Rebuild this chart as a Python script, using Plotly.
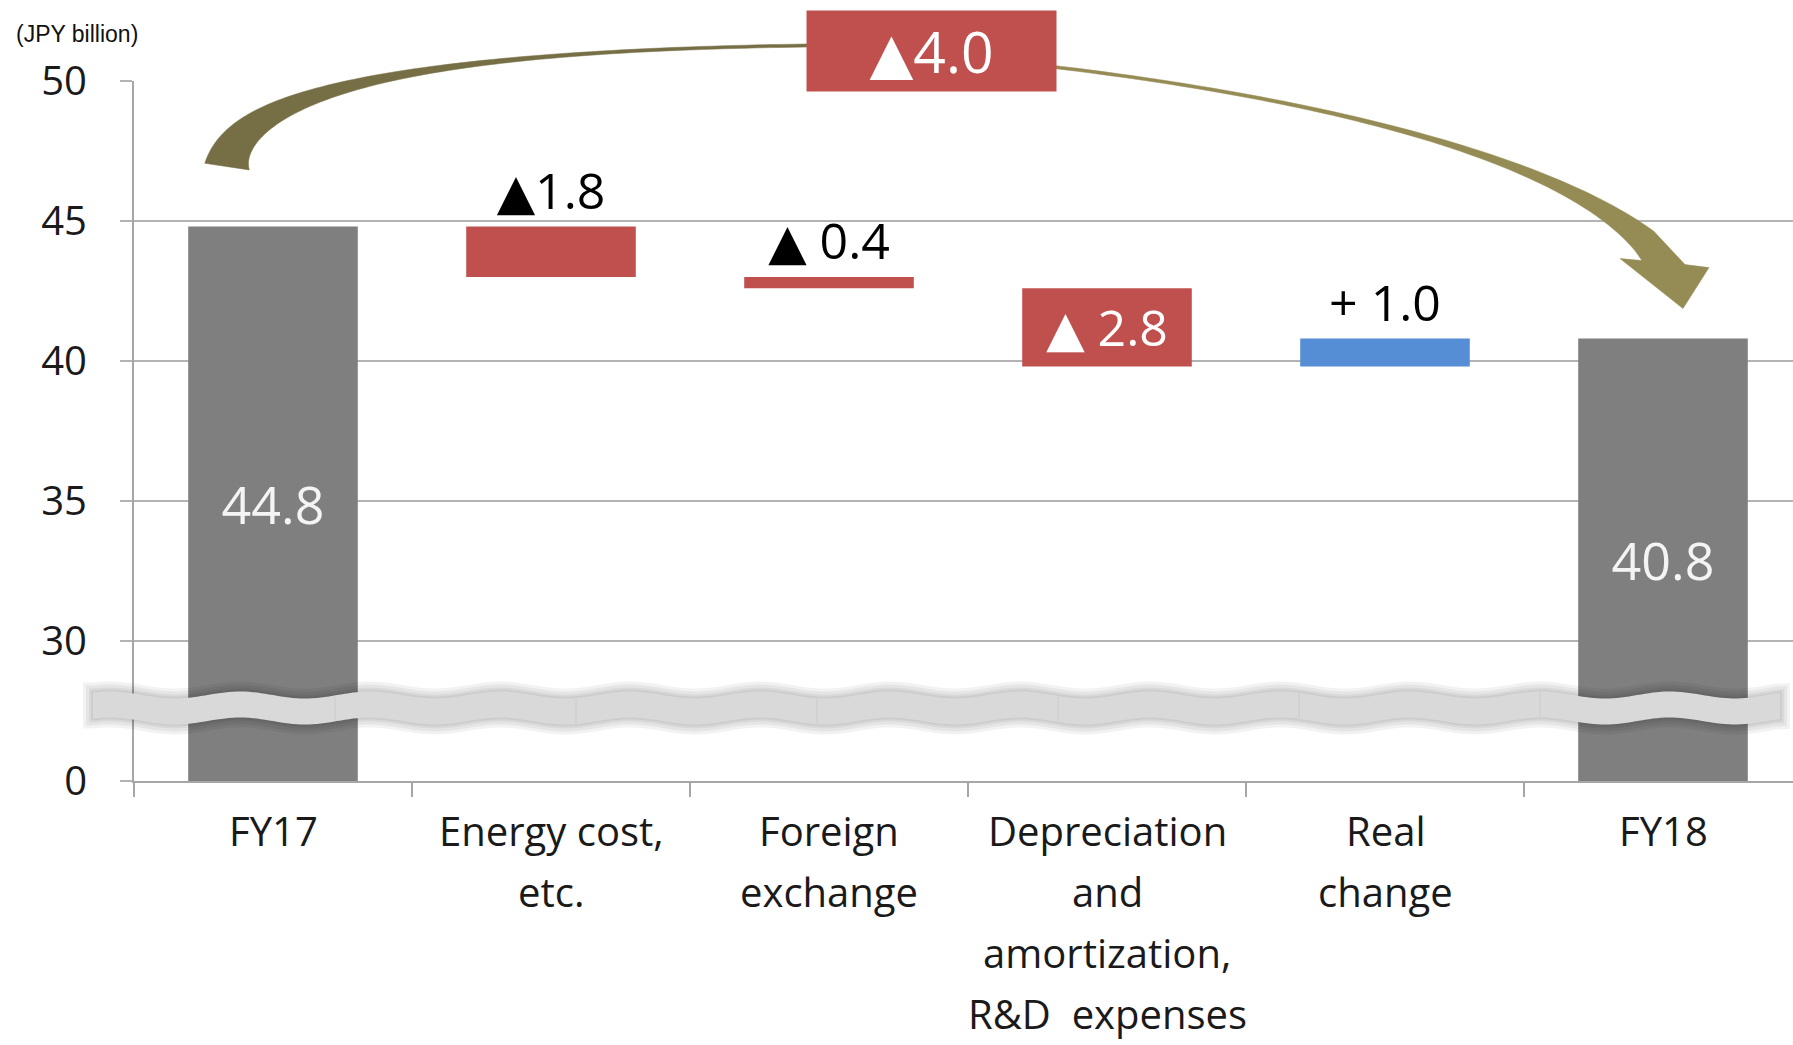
import math
import plotly.graph_objects as go

# ---------------- data (JPY billion) ----------------
categories = [
    "FY17",
    "Energy cost, etc.",
    "Foreign exchange",
    "Depreciation and amortization, R&D expenses",
    "Real change",
    "FY18",
]
category_label_lines = [
    ["FY17"],
    ["Energy cost,", "etc."],
    ["Foreign", "exchange"],
    ["Depreciation", "and", "amortization,", "R&D\u00a0 expenses"],
    ["Real", "change"],
    ["FY18"],
]
fy17_total = 44.8
fy18_total = 40.8
change_values = [-1.8, -0.4, -2.8, 1.0]
change_sign_gap = ["", " ", " ", " "]
y_tick_values = [0, 30, 35, 40, 45, 50]
unit_label = "(JPY billion)"

# ---------------- broken value axis ----------------
# Values from 0 to 30 are squeezed into the short band below the break,
# so that 0 sits where 25 would be on a continuous scale.
BREAK_AT = 30.0
ZERO_POS = 25.0


def axis_pos(v):
    if v >= BREAK_AT:
        return v
    return ZERO_POS + v * (BREAK_AT - ZERO_POS) / BREAK_AT


GREY, RED, BLUE = "#7f7f7f", "#c0504d", "#558ed5"
TEXT_FONT = "Open Sans, DejaVu Sans, sans-serif"

bar_base, bar_len, bar_color = [], [], []
bar_text, text_pos, text_color, text_size = [], [], [], []


def add_total(v):
    bar_base.append(axis_pos(0))
    bar_len.append(axis_pos(v) - axis_pos(0))
    bar_color.append(GREY)
    bar_text.append(f"{v:.1f}")
    text_pos.append("inside")
    text_color.append("#f4f4f4")
    text_size.append(52)


add_total(fy17_total)
level = fy17_total
for delta, gap in zip(change_values, change_sign_gap):
    lo, hi = sorted((level, level + delta))
    bar_base.append(axis_pos(lo))
    bar_len.append(axis_pos(hi) - axis_pos(lo))
    bar_color.append(RED if delta < 0 else BLUE)
    mark = "\u25b2" if delta < 0 else "+"
    bar_text.append(f"{mark}{gap}{abs(delta):.1f}")
    inside = abs(delta) > 2.0  # tall enough to hold its own label
    text_pos.append("inside" if inside else "outside")
    text_color.append("white" if inside else "black")
    text_size.append(50)
    level += delta
add_total(fy18_total)

fig = go.Figure(
    go.Bar(
        x=categories,
        y=bar_len,
        base=bar_base,
        width=0.61,
        marker=dict(color=bar_color, line=dict(width=0)),
        text=bar_text,
        textposition=text_pos,
        insidetextanchor="middle",
        constraintext="none",
        textfont=dict(family=TEXT_FONT, size=text_size, color=text_color),
        cliponaxis=False,
        hoverinfo="skip",
    )
)

# ---------------- pixel geometry of the plot area ----------------
W, H = 1793, 1045
L, T, B = 134, 81, 264
PLOT_W = W - L
PLOT_H = H - T - B
CAT_STEP = 278.0  # pixels per category


def px(x):
    return (x - L) / PLOT_W


def py(y):
    return (H - B - y) / PLOT_H


def path_from(points):
    return "M " + " L ".join(f"{px(x):.5f},{py(y):.5f}" for x, y in points) + " Z"


shapes = []

# ---------------- wavy axis-break band ----------------
BAND_X0, BAND_X1 = 93, 1780
BAND_TOP, BAND_THICK, WAVE_AMP, WAVE_LEN = 695.0, 26.0, 3.5, 130.0


def band_top(x):
    return BAND_TOP - WAVE_AMP * math.cos(2 * math.pi * (x - 240) / WAVE_LEN)


xs = [BAND_X0 + i * 4 for i in range(int((BAND_X1 - BAND_X0) / 4) + 1)] + [BAND_X1]


def band_polygon(grow):
    top = [(x, band_top(x) - grow) for x in xs]
    bot = [(x, band_top(x) + BAND_THICK + grow) for x in reversed(xs)]
    top[0] = (top[0][0] - grow, top[0][1])
    top[-1] = (top[-1][0] + grow, top[-1][1])
    bot[0] = (bot[0][0] + grow, bot[0][1])
    bot[-1] = (bot[-1][0] - grow, bot[-1][1])
    return top + bot


for grow in (10, 7, 4, 2):
    shapes.append(dict(type="path", xref="paper", yref="paper", layer="above",
                       path=path_from(band_polygon(grow)),
                       fillcolor="rgba(0,0,0,0.05)", line=dict(width=0)))
shapes.append(dict(type="path", xref="paper", yref="paper", layer="above",
                   path=path_from(band_polygon(0)),
                   fillcolor="#d9d9d9", line=dict(width=0)))
seg = 335
while seg < BAND_X1 - 20:
    shapes.append(dict(type="line", xref="paper", yref="paper", layer="above",
                       x0=px(seg), x1=px(seg), y0=py(band_top(seg) + 1),
                       y1=py(band_top(seg) + BAND_THICK - 1),
                       line=dict(color="#cacaca", width=1)))
    seg += 241


# ---------------- curved overall-change arrow ----------------
def bezier(p, t):
    u = 1 - t
    return (u**3 * p[0][0] + 3 * u * u * t * p[1][0] + 3 * u * t * t * p[2][0] + t**3 * p[3][0],
            u**3 * p[0][1] + 3 * u * u * t * p[1][1] + 3 * u * t * t * p[2][1] + t**3 * p[3][1])


def bezier_d(p, t):
    u = 1 - t
    return (3 * u * u * (p[1][0] - p[0][0]) + 6 * u * t * (p[2][0] - p[1][0]) + 3 * t * t * (p[3][0] - p[2][0]),
            3 * u * u * (p[1][1] - p[0][1]) + 6 * u * t * (p[2][1] - p[1][1]) + 3 * t * t * (p[3][1] - p[2][1]))


def ribbon(ctrl, width_fn, t_end=1.0, n=80):
    """Two edges of a variable-width band along a cubic curve.
    The first edge lies on the side of +y (screen-down) for a rightward curve."""
    side_a, side_b = [], []
    for i in range(n + 1):
        t = t_end * i / n
        cx, cy = bezier(ctrl, t)
        dx, dy = bezier_d(ctrl, t)
        norm = math.hypot(dx, dy)
        nx, ny = -dy / norm, dx / norm
        w = width_fn(t) / 2
        side_a.append((cx + nx * w, cy + ny * w))
        side_b.append((cx - nx * w, cy - ny * w))
    return side_a, side_b


x_fy17 = L + 0.5 * CAT_STEP
x_fy18 = L + 5.5 * CAT_STEP


def bar_top_px(v):
    return (H - B) - (axis_pos(v) - ZERO_POS) * PLOT_H / 25.0


tail = (x_fy17 - 46, bar_top_px(fy17_total) - 60)
peak = (807, 45.5)
head = (x_fy18 + 1, bar_top_px(fy18_total) - 76)

left_ctrl = [tail, (tail[0] + 13, 80), (480, 50), peak]
right_ctrl = [peak, (1200, 68), (1574, 142), head]

a, b = ribbon(left_ctrl, lambda t: 3 + 42 * (1 - t) ** 3)
shapes.append(dict(type="path", xref="paper", yref="paper", layer="above",
                   path=path_from(a + b[::-1]), fillcolor="#766e45",
                   line=dict(color="#766e45", width=0.5)))

# right half: shaft widens toward the head, then the arrow head
a, b = ribbon(right_ctrl, lambda t: 3 + 33 * t ** 5, t_end=0.94, n=76)
hx, hy = head
inner_notch, outer_notch = (hx - 22, hy - 2), (hx + 21, hy + 2)
arrow_head = [inner_notch, (hx - 44, hy - 4), (hx + 19, hy + 46), (hx + 45, hy + 5), outer_notch]
shapes.append(dict(type="path", xref="paper", yref="paper", layer="above",
                   path=path_from(a + arrow_head + b[::-1]), fillcolor="#958b54",
                   line=dict(color="#958b54", width=0.5)))

# ---------------- annotations ----------------
annotations = [
    dict(text=unit_label, x=px(14), y=py(34), xref="paper", yref="paper",
         xanchor="left", yanchor="middle", showarrow=False,
         font=dict(family="Liberation Sans, Arial, sans-serif", size=23, color="#111111")),
    dict(text=f"\u25b2{fy17_total - fy18_total:.1f}", x=px(931), y=py(51),
         xref="paper", yref="paper", xanchor="center", yanchor="middle",
         showarrow=False, width=249, height=80, borderpad=0, bgcolor=RED,
         valign="middle", font=dict(family=TEXT_FONT, size=57, color="white")),
]

LABEL_FIRST, LABEL_STEP = 49, 61
for cat, lines in zip(categories, category_label_lines):
    for i, line in enumerate(lines):
        annotations.append(dict(
            text=line, x=cat, xref="x", y=0, yref="paper",
            xanchor="center", yanchor="middle", yshift=-(LABEL_FIRST + i * LABEL_STEP),
            showarrow=False, font=dict(family=TEXT_FONT, size=40, color="#1a1a1a")))

fig.update_layout(
    width=W, height=H,
    margin=dict(l=L, r=0, t=T, b=B, pad=0),
    paper_bgcolor="white", plot_bgcolor="white",
    showlegend=False,
    shapes=shapes,
    annotations=annotations,
    xaxis=dict(
        type="category",
        range=[-0.5, -0.5 + PLOT_W / CAT_STEP],
        tickson="boundaries", ticks="outside", ticklen=14, tickwidth=2,
        tickcolor="#a6a6a6", showticklabels=False,
        showline=True, linecolor="#a6a6a6", linewidth=2,
        showgrid=False, zeroline=False, fixedrange=True,
    ),
    yaxis=dict(
        range=[ZERO_POS, 50],
        tickvals=[axis_pos(v) for v in y_tick_values],
        ticktext=[str(v) for v in y_tick_values],
        ticks="outside", ticklen=12, tickwidth=2, tickcolor="#b3b3b3",
        ticklabelstandoff=25,
        tickfont=dict(family=TEXT_FONT, size=40, color="#1a1a1a"),
        showgrid=True, gridcolor="#b3b3b3", gridwidth=2,
        showline=True, linecolor="#a6a6a6", linewidth=2,
        zeroline=False, fixedrange=True,
    ),
)

fig.write_html("out.html")
